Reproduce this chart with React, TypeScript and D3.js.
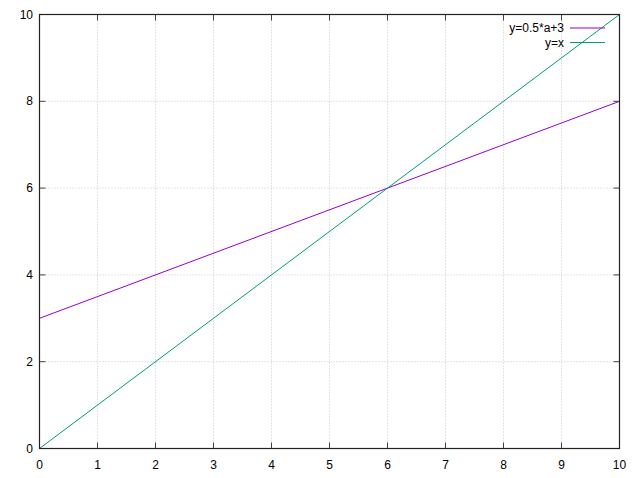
import React from "react";
import * as d3 from "d3";

const xTicks = [0, 1, 2, 3, 4, 5, 6, 7, 8, 9, 10];
const yTicks = [0, 2, 4, 6, 8, 10];
const seriesNames = ["y=0.5*a+3", "y=x"];
const seriesColors = ["#9400d3", "#009e73"];
const lineA = [
  { x: 0, y: 3 },
  { x: 10, y: 8 },
];
const lineB = [
  { x: 0, y: 0 },
  { x: 10, y: 10 },
];

export default function App() {
  const W = 640, H = 478;
  const left = 39.5, right = 619.5, top = 14.5, bottom = 448.5;
  const x = d3.scaleLinear().domain([0, 10]).range([left, right]);
  const y = d3.scaleLinear().domain([0, 10]).range([bottom, top]);
  const line = d3.line<{ x: number; y: number }>().x((d) => x(d.x)).y((d) => y(d.y));
  const font = "'Liberation Sans', Arial, sans-serif";
  const tl = 6;
  return (
    <svg width={W} height={H} style={{ position: "absolute", left: 0, top: 0, background: "#fff" }} fontFamily={font} fontSize={12}>
      <rect x={0} y={0} width={W} height={H} fill="#fff" />
      {xTicks.slice(1, -1).map((t) => (
        <line key={"gx" + t} x1={x(t)} x2={x(t)} y1={top} y2={bottom} stroke="#c8c8c8" strokeDasharray="1,2" />
      ))}
      {yTicks.slice(1, -1).map((t) => (
        <line key={"gy" + t} x1={left} x2={right} y1={y(t)} y2={y(t)} stroke="#c8c8c8" strokeDasharray="1,2" />
      ))}
      {xTicks.map((t) => (
        <g key={"tx" + t}>
          <line x1={x(t)} x2={x(t)} y1={bottom} y2={bottom - tl} stroke="#444" />
          <line x1={x(t)} x2={x(t)} y1={top} y2={top + tl} stroke="#444" />
          <text x={x(t)} y={bottom + 20} textAnchor="middle" fill="#000">{t}</text>
        </g>
      ))}
      {yTicks.map((t) => (
        <g key={"ty" + t}>
          <line x1={left} x2={left + tl} y1={y(t)} y2={y(t)} stroke="#444" />
          <line x1={right} x2={right - tl} y1={y(t)} y2={y(t)} stroke="#444" />
          <text x={33} y={y(t) + 4} textAnchor="end" fill="#000">{t}</text>
        </g>
      ))}
      <path d={line(lineA) || ""} fill="none" stroke={seriesColors[0]} strokeWidth={1} />
      <path d={line(lineB) || ""} fill="none" stroke={seriesColors[1]} strokeWidth={1} />
      {seriesNames.map((n, i) => (
        <g key={n}>
          <text x={564} y={28 + i * 14.5 + 4} textAnchor="end" fill="#000">{n}</text>
          <line x1={570} x2={605} y1={28 + i * 14.5} y2={28 + i * 14.5} stroke={seriesColors[i]} strokeWidth={1} />
        </g>
      ))}
      <rect x={left} y={top} width={right - left} height={bottom - top} fill="none" stroke="#222" strokeWidth={1.2} />
    </svg>
  );
}
